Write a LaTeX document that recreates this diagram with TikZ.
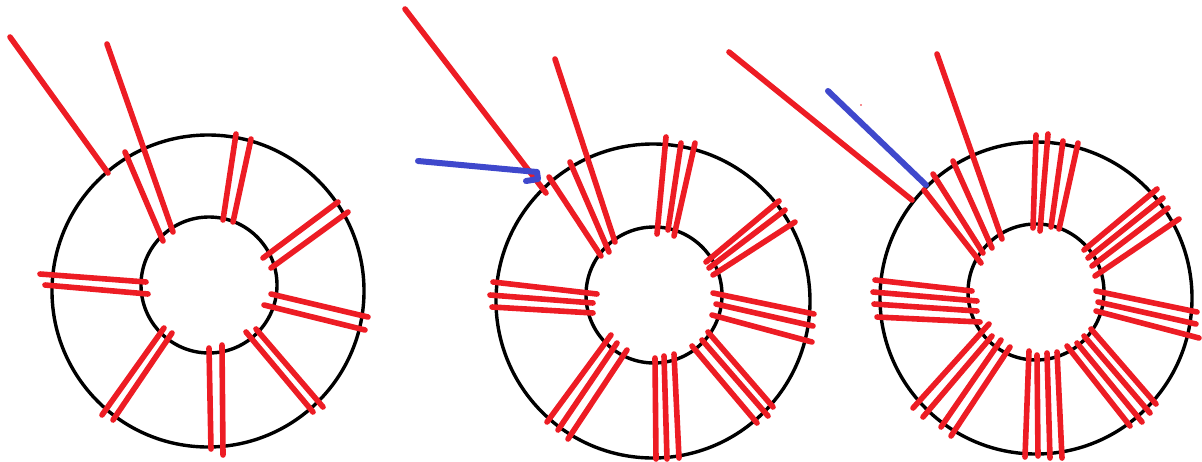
\documentclass[tikz,border=0pt]{standalone}
\usepackage{xcolor}
\definecolor{cRed}{HTML}{ED1C24}
\definecolor{cBlue}{HTML}{3F48CC}
\tikzset{
  core/.style={draw=black,line width=3.4pt},
  wire/.style={draw=cRed,line width=5.6pt,line cap=round,line join=round},
  lead/.style={draw=cBlue,line width=6pt,line cap=round,line join=round},
}
\begin{document}
\begin{tikzpicture}[x=1pt,y=-1pt]
  \useasboundingbox (0,0) rectangle (1202,461);
  % left core
  \draw[core] (208,291) circle (156pt);
  \draw[core] (209,285) circle (68pt);
  \draw[wire] (10,37) -- (108,173);
  \draw[wire] (107,44) -- (173,232);
  \draw[wire] (125,152) -- (163,241);
  \draw[wire] (236,134) -- (223,220);
  \draw[wire] (251,139) -- (233,222);
  \draw[wire] (338,202) -- (263,258);
  \draw[wire] (348,212) -- (271,268);
  \draw[wire] (368,317) -- (271,294);
  \draw[wire] (365,330) -- (264,305);
  \draw[wire] (323,407) -- (256,329);
  \draw[wire] (313,412) -- (246,332);
  \draw[wire] (223,455) -- (222,345);
  \draw[wire] (211,449) -- (209,348);
  \draw[wire] (113,420) -- (172,333);
  \draw[wire] (102,415) -- (164,328);
  \draw[wire] (40,274) -- (146,282);
  \draw[wire] (45,285) -- (148,294);
  % middle core
  \draw[core] (653,301) circle (157pt);
  \draw[core] (654,295) circle (68pt);
  \draw[wire] (405,9) -- (546,193);
  \draw[wire] (555,59) -- (615,242);
  \draw[wire] (570,162) -- (609,252);
  \draw[wire] (549,177) -- (601,256);
  \draw[wire] (666,137) -- (657,234);
  \draw[wire] (681,143) -- (668,230);
  \draw[wire] (695,143) -- (674,236);
  \draw[wire] (779,201) -- (706,262);
  \draw[wire] (785,210) -- (709,268);
  \draw[wire] (795,222) -- (713,275);
  \draw[wire] (814,314) -- (713,293);
  \draw[wire] (813,326) -- (716,304);
  \draw[wire] (812,342) -- (712,315);
  \draw[wire] (773,407) -- (708,332);
  \draw[wire] (768,416) -- (702,340);
  \draw[wire] (757,423) -- (692,346);
  \draw[wire] (656,459) -- (655,358);
  \draw[wire] (667,459) -- (664,356);
  \draw[wire] (679,458) -- (674,354);
  \draw[wire] (547,422) -- (611,335);
  \draw[wire] (558,430) -- (617,343);
  \draw[wire] (568,439) -- (627,350);
  \draw[wire] (493,282) -- (597,294);
  \draw[wire] (490,295) -- (593,303);
  \draw[wire] (492,307) -- (593,313);
  \draw[lead] (418,161) -- (537,172) -- (538,179) -- (526,181);
  % right core
  \draw[core] (1036,298) circle (156pt);
  \draw[core] (1036,292) circle (68pt);
  \draw[wire] (729,52) -- (912,200);
  \draw[wire] (937,54) -- (1002,239);
  \draw[wire] (953,161) -- (992,248);
  \draw[wire] (933,174) -- (983,253);
  \draw[wire] (924,190) -- (981,263);
  \draw[wire] (1036,135) -- (1033,228);
  \draw[wire] (1048,134) -- (1040,231);
  \draw[wire] (1063,141) -- (1051,227);
  \draw[wire] (1078,143) -- (1059,229);
  \draw[wire] (1157,189) -- (1084,250);
  \draw[wire] (1163,198) -- (1088,258);
  \draw[wire] (1168,208) -- (1092,266);
  \draw[wire] (1179,219) -- (1095,276);
  \draw[wire] (1197,312) -- (1096,291);
  \draw[wire] (1196,324) -- (1098,302);
  \draw[wire] (1199,338) -- (1096,311);
  \draw[wire] (1156,404) -- (1091,329);
  \draw[wire] (1150,413) -- (1084,336);
  \draw[wire] (1142,422) -- (1077,343);
  \draw[wire] (1130,426) -- (1067,346);
  \draw[wire] (1025,457) -- (1029,351);
  \draw[wire] (1038,456) -- (1037,355);
  \draw[wire] (1050,458) -- (1047,353);
  \draw[wire] (1062,458) -- (1057,352);
  \draw[wire] (913,408) -- (989,324);
  \draw[wire] (923,417) -- (992,336);
  \draw[wire] (941,427) -- (1001,340);
  \draw[wire] (951,436) -- (1010,347);
  \draw[wire] (875,280) -- (972,291);
  \draw[wire] (873,292) -- (977,301);
  \draw[wire] (874,304) -- (977,311);
  \draw[wire] (877,317) -- (980,322);
  \draw[lead] (828,91) -- (926,185);
  \fill[cRed] (861,105) circle (0.8pt);
\end{tikzpicture}
\end{document}
